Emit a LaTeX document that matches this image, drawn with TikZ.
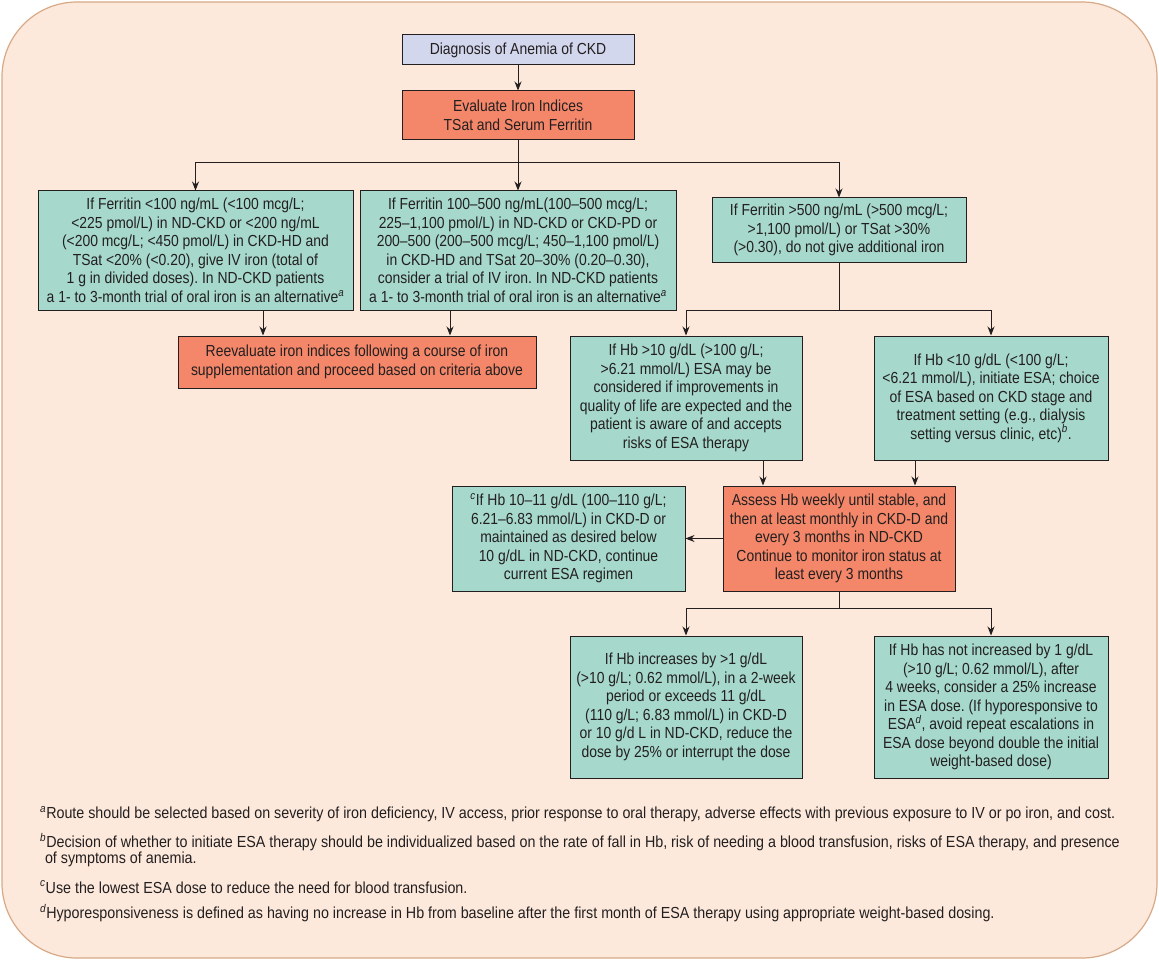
\documentclass[tikz,border=0pt]{standalone}
\usepackage{fontspec}
\usetikzlibrary{arrows.meta}
\setmainfont[FakeStretch=0.87]{Liberation Sans}
\newfontfamily\notefont[FakeStretch=0.893]{Liberation Sans}
\frenchspacing
\definecolor{peach}{HTML}{FCE9DB}
\definecolor{peachline}{HTML}{D7A987}
\definecolor{tealbox}{HTML}{A6D9CB}
\definecolor{salmonbox}{HTML}{F48769}
\definecolor{lilacbox}{HTML}{D3D7ED}
\definecolor{inkdark}{HTML}{231F20}
\newcommand{\fn}[1]{\textsuperscript{\itshape #1}}
\tikzset{
 box/.style={draw=inkdark, line width=1pt, inner sep=0pt, align=center, text=inkdark,
   font=\fontsize{16}{18.5}\selectfont},
 greenbox/.style={box, fill=tealbox},
 redbox/.style={box, fill=salmonbox},
 bluebox/.style={box, fill=lilacbox},
 link/.style={draw=inkdark, line width=0.9pt, -{Stealth[length=9pt,width=7pt]}},
 fnote/.style={anchor=west, inner sep=0pt, align=left, text=inkdark,
   font=\notefont\fontsize{16}{16}\selectfont}
}
\begin{document}
\begin{tikzpicture}[x=1pt,y=-1pt]
 \useasboundingbox (0,0) rectangle (1159,960);
 \draw[rounded corners=75pt, fill=peach, draw=peachline, line width=1.2pt] (2,2) rectangle (1157,958);

 \node[bluebox, minimum width=232pt, minimum height=30pt] (diag) at (518,50) {Diagnosis of Anemia of CKD};
 \node[redbox, minimum width=232pt, minimum height=49pt] (evalu) at (518,115.5) {Evaluate Iron Indices\\TSat and Serum Ferritin};
 \node[greenbox, minimum width=315pt, minimum height=119pt] (ferlow) at (195.5,250.5)
   {If Ferritin <100 ng/mL (<100 mcg/L;\\
    <225 pmol/L) in ND-CKD or <200 ng/mL\\
    (<200 mcg/L; <450 pmol/L) in CKD-HD and\\
    TSat <20\% (<0.20), give IV iron (total of\\
    1 g in divided doses). In ND-CKD patients\\
    a 1- to 3-month trial of oral iron is an alternative\fn{a}};
 \node[greenbox, minimum width=316pt, minimum height=119pt] (fermid) at (518,250.5)
   {If Ferritin 100–500 ng/mL(100–500 mcg/L;\\
    225–1,100 pmol/L) in ND-CKD or CKD-PD or\\
    200–500 (200–500 mcg/L; 450–1,100 pmol/L)\\
    in CKD-HD and TSat 20–30\% (0.20–0.30),\\
    consider a trial of IV iron. In ND-CKD patients\\
    a 1- to 3-month trial of oral iron is an alternative\fn{a}};
 \node[greenbox, minimum width=254pt, minimum height=64pt] (ferhigh) at (839,230)
   {If Ferritin >500 ng/mL (>500 mcg/L;\\
    >1,100 pmol/L) or TSat >30\%\\
    (>0.30), do not give additional iron};
 \node[redbox, minimum width=358pt, minimum height=52pt] (reval) at (357,362)
   {Reevaluate iron indices following a course of iron\\
    supplementation and proceed based on criteria above};
 \node[greenbox, minimum width=232pt, minimum height=124pt] (hbhigh) at (686,398)
   {If Hb >10 g/dL (>100 g/L;\\
    >6.21 mmol/L) ESA may be\\
    considered if improvements in\\
    quality of life are expected and the\\
    patient is aware of and accepts\\
    risks of ESA therapy};
 \node[greenbox, minimum width=234pt, minimum height=124pt] (hblow) at (991,398)
   {If Hb <10 g/dL (<100 g/L;\\
    <6.21 mmol/L), initiate ESA; choice\\
    of ESA based on CKD stage and\\
    treatment setting (e.g., dialysis\\
    setting versus clinic, etc)\fn{b}.};
 \node[redbox, minimum width=232pt, minimum height=105pt] (assess) at (839,538.5)
   {Assess Hb weekly until stable, and\\
    then at least monthly in CKD-D and\\
    every 3 months in ND-CKD\\
    Continue to monitor iron status at\\
    least every 3 months};
 \node[greenbox, minimum width=233pt, minimum height=105pt] (contin) at (568.5,538.5)
   {\fn{c}If Hb 10–11 g/dL (100–110 g/L;\\
    6.21–6.83 mmol/L) in CKD-D or\\
    maintained as desired below\\
    10 g/dL in ND-CKD, continue\\
    current ESA regimen};
 \node[greenbox, minimum width=232pt, minimum height=142pt] (incr) at (686,707)
   {If Hb increases by >1 g/dL\\
    (>10 g/L; 0.62 mmol/L), in a 2-week\\
    period or exceeds 11 g/dL\\
    (110 g/L; 6.83 mmol/L) in CKD-D\\
    or 10 g/d L in ND-CKD, reduce the\\
    dose by 25\% or interrupt the dose};
 \node[greenbox, minimum width=234pt, minimum height=142pt] (noincr) at (991,707)
   {If Hb has not increased by 1 g/dL\\
    (>10 g/L; 0.62 mmol/L), after\\
    4 weeks, consider a 25\% increase\\
    in ESA dose. (If hyporesponsive to\\
    ESA\fn{d}, avoid repeat escalations in\\
    ESA dose beyond double the initial\\
    weight-based dose)};

 \draw[link] (diag) -- (evalu);
 \coordinate (split1) at (518,162);
 \draw[link, -] (evalu) -- (split1);
 \draw[link] (split1) -| (ferlow.north);
 \draw[link] (split1) -- (fermid.north);
 \draw[link] (split1) -| (ferhigh.north);
 \draw[link] (ferlow.south -| 263,0) -- (reval.north -| 263,0);
 \draw[link] (fermid.south -| 450,0) -- (reval.north -| 450,0);
 \coordinate (split2) at (839,310);
 \draw[link, -] (ferhigh) -- (split2);
 \draw[link] (split2) -| (hbhigh.north);
 \draw[link] (split2) -| (hblow.north);
 \draw[link] (hbhigh.south -| 763,0) -- (assess.north -| 763,0);
 \draw[link] (hblow.south -| 915,0) -- (assess.north -| 915,0);
 \draw[link] (assess) -- (contin);
 \coordinate (split3) at (839,608);
 \draw[link, -] (assess) -- (split3);
 \draw[link] (split3) -| (incr.north);
 \draw[link] (split3) -| (noincr.north);

 \node[fnote] (fna) at (40,814) {\fn{a}Route should be selected based on severity of iron deficiency, IV access, prior response to oral therapy, adverse effects with previous exposure to IV or po iron, and cost.};
 \node[fnote] (fnb) at (40,850) {\fn{b}Decision of whether to initiate ESA therapy should be individualized based on the rate of fall in Hb, risk of needing a blood transfusion, risks of ESA therapy, and presence\\
   \hspace{0.3em}of symptoms of anemia.};
 \node[fnote] (fnc) at (40,887) {\fn{c}Use the lowest ESA dose to reduce the need for blood transfusion.};
 \node[fnote] (fnd) at (40,913) {\fn{d}Hyporesponsiveness is defined as having no increase in Hb from baseline after the first month of ESA therapy using appropriate weight-based dosing.};
\end{tikzpicture}
\end{document}
